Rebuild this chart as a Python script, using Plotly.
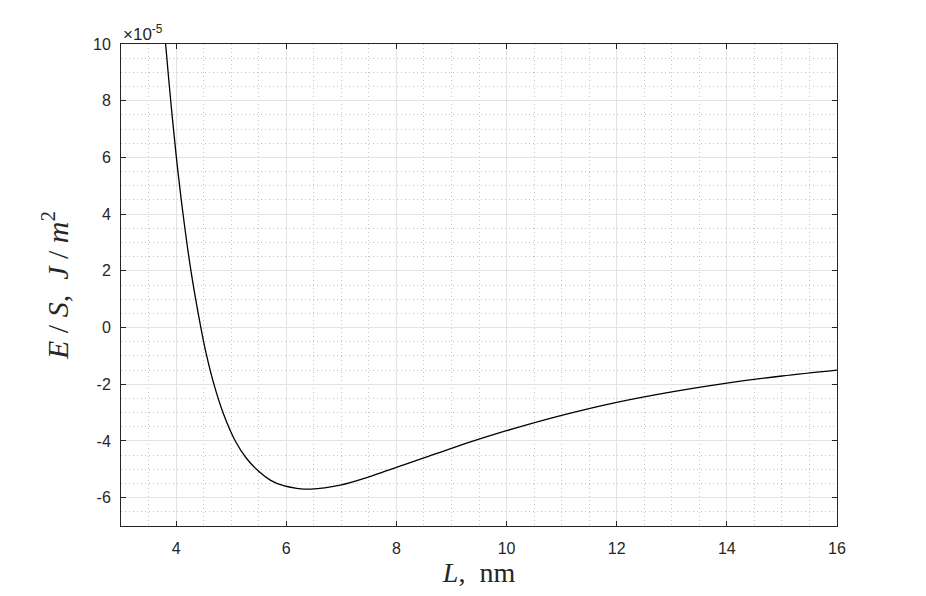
"""Energy per unit area vs. separation L (MATLAB-style figure)."""

import plotly.graph_objects as go

# separation L, nm
L_NM = [3.70, 3.81, 3.90, 4.00, 4.12, 4.27, 4.45, 4.55, 4.68, 4.86, 5.08,
        5.28, 5.50, 5.71, 5.95, 6.19, 6.45, 6.98, 7.5, 8.0, 8.5, 9.0, 9.5, 10.0,
        11.0, 12.0, 13.0, 14.0, 15.0, 16.0]
# E/S in units of 1e-5 J/m^2
E_S_E5 = [12.6, 10.0, 8.05, 6.1, 4.1, 2.0, 0.0, -0.95, -1.95, -3.04, -4.02,
          -4.62, -5.07, -5.38, -5.58, -5.67, -5.70, -5.56, -5.27, -4.93, -4.60, -4.26, -3.94, -3.64,
          -3.10, -2.64, -2.27, -1.96, -1.71, -1.50]

X_TICKS = [4, 6, 8, 10, 12, 14, 16]
Y_TICKS = [-6, -4, -2, 0, 2, 4, 6, 8, 10]

AXIS_COLOR = "#262626"
GRID_COLOR = "#e3e3e3"
MINOR_COLOR = "#c4c4c4"
TICK_FONT = dict(family="Liberation Sans, Arial", size=16, color=AXIS_COLOR)
TITLE_FONT = dict(family="Liberation Serif, serif", size=28, color=AXIS_COLOR)

fig = go.Figure()
fig.add_trace(go.Scatter(
    x=L_NM, y=E_S_E5, mode="lines",
    line=dict(color="black", width=1.3, shape="spline", smoothing=1.0),
    showlegend=False, hoverinfo="skip",
))

axis_common = dict(
    showline=True, linecolor=AXIS_COLOR, linewidth=1, mirror="ticks",
    ticks="inside", ticklen=5, tickcolor=AXIS_COLOR, tickwidth=1,
    showgrid=True, gridcolor=GRID_COLOR, gridwidth=1, zeroline=False,
    tickfont=TICK_FONT,
)

fig.update_xaxes(
    range=[3, 16], tickvals=X_TICKS, ticktext=[str(v) for v in X_TICKS],
    ticklabelstandoff=8,
    minor=dict(dtick=0.5, tick0=3, showgrid=True, gridcolor=MINOR_COLOR, griddash="1px,3px", ticks=""),
    title=dict(text="<i>L</i>,  nm", font=TITLE_FONT, standoff=6),
    **axis_common,
)
fig.update_yaxes(
    range=[-7, 10], tickvals=Y_TICKS, ticktext=[str(v) for v in Y_TICKS],
    ticklabelstandoff=6,
    minor=dict(dtick=0.5, tick0=-7, showgrid=True, gridcolor=MINOR_COLOR, griddash="1px,3px", ticks=""),
    title=dict(text="<i>E</i> / <i>S</i>,  <i>J</i> / <i>m</i><sup>2</sup>",
               font=dict(TITLE_FONT, size=30), standoff=15),
    **axis_common,
)

fig.add_annotation(
    x=0, y=1, xref="paper", yref="paper", xanchor="left", yanchor="bottom",
    text="\u00d710<sup>-5</sup>", showarrow=False, yshift=-2,
    font=dict(family="Liberation Sans, Arial", size=17, color=AXIS_COLOR),
)

# page body has an 8px margin, so shift the plot area to land on the reference
fig.update_layout(
    width=926, height=596,
    margin=dict(l=113, r=97, t=36, b=78),
    plot_bgcolor="white", paper_bgcolor="white",
)

fig.write_html("out.html")
